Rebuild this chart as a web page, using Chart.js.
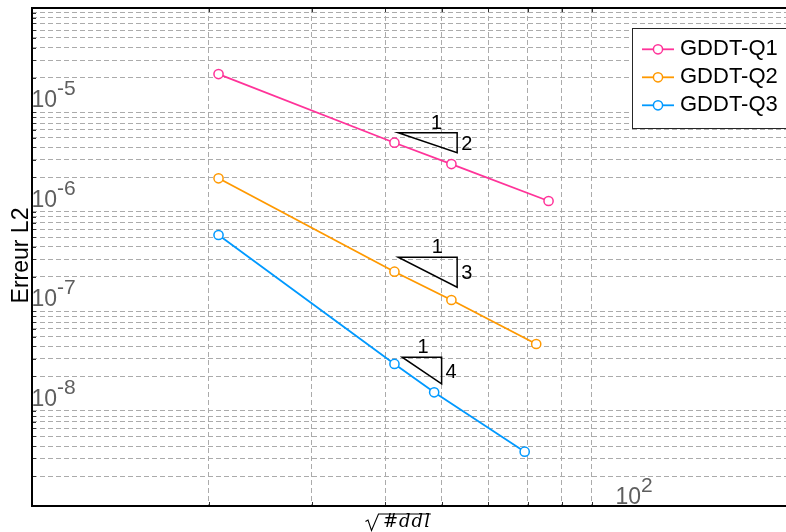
<!DOCTYPE html>
<html><head><meta charset="utf-8">
<script src="https://cdn.jsdelivr.net/npm/chart.js@4/dist/chart.umd.min.js"></script>
<style>
html,body{margin:0;padding:0;overflow:hidden;background:#fff;width:786px;height:532px}
#wrap{position:absolute;left:0;top:0;width:840px;height:532px}
</style>
</head><body><div id="wrap"><canvas id="c" width="840" height="532"></canvas></div>
<script>
// ---- data ----
const seriesNames = ['GDDT-Q1', 'GDDT-Q2', 'GDDT-Q3'];
const seriesColors = ['rgb(255,51,153)', 'rgb(255,153,0)', 'rgb(0,153,255)'];
const q1X = [20.8, 41.5, 51.9, 76.0];
const q1Y = [2.17e-5, 4.44e-6, 2.71e-6, 1.154e-6];
const q2X = [20.8, 41.5, 51.9, 72.4];
const q2Y = [1.95e-6, 2.25e-7, 1.17e-7, 4.23e-8];
const q3X = [20.8, 41.5, 48.5, 69.2];
const q3Y = [5.26e-7, 2.67e-8, 1.385e-8, 3.51e-9];
const xLimits = [10, 200];
const yLimits = [1e-9, 1e-4];
const xGridTicks = [20, 30, 40, 50, 60, 70, 80, 90];
const gridMantissas = [2, 3, 4, 5, 6, 7, 8, 9];
const yGridExponents = [-9, -8, -7, -6, -5];
const yLabelExponents = [-5, -6, -7, -8];
const xLabelExponents = [2];
const yTitle = 'Erreur L2';
const xTitle = '#ddl';
// slope triangles (annotation)
const triX0 = [42.11, 42.11, 42.77];
const triX1 = [53.08, 53.08, 49.94];
const triY0 = [5.607e-6, 3.15e-7, 3.124e-8];
const triOrder = [2, 3, 4];
const triOneX = [48.96, 49.08, 46.45];

const yGridTicks = [];
yGridExponents.forEach(e => gridMantissas.forEach(m => yGridTicks.push(m * Math.pow(10, e))));

const xs = [q1X, q2X, q3X], ys = [q1Y, q2Y, q3Y];
const datasets = seriesNames.map((n, i) => ({
  label: n,
  data: xs[i].map((v, k) => ({x: v, y: ys[i][k]})),
  borderColor: seriesColors[i],
  backgroundColor: '#ffffff',
  pointBackgroundColor: '#ffffff',
  pointBorderColor: seriesColors[i],
  pointRadius: 4.6,
  pointBorderWidth: 1.5,
  borderWidth: 1.8,
  tension: 0,
  fill: false
}));

const SANS = '"Liberation Sans", Arial, Helvetica, sans-serif';

function drawPow(ctx, x0, base, exp) {
  ctx.font = '23px ' + SANS;
  ctx.textAlign = 'left';
  ctx.textBaseline = 'alphabetic';
  ctx.fillText('10', x0, base);
  const w = ctx.measureText('10').width;
  ctx.font = '21px ' + SANS;
  ctx.fillText(String(exp), x0 + w, base - 12);
}

const deco = {
  id: 'deco',
  afterDatasetsDraw(chart) {
    const {ctx, scales: {x, y}} = chart;
    ctx.save();
    ctx.strokeStyle = '#000';
    ctx.lineWidth = 1.5;
    ctx.lineJoin = 'miter';
    ctx.fillStyle = '#000';
    for (let i = 0; i < triX0.length; i++) {
      const px0 = x.getPixelForValue(triX0[i]);
      const px1 = x.getPixelForValue(triX1[i]);
      const py0 = y.getPixelForValue(triY0[i]);
      const py1 = y.getPixelForValue(triY0[i] * Math.pow(triX0[i] / triX1[i], triOrder[i]));
      ctx.beginPath();
      ctx.moveTo(px0, py0); ctx.lineTo(px1, py0); ctx.lineTo(px1, py1); ctx.closePath();
      ctx.stroke();
      ctx.font = '20px ' + SANS;
      ctx.textBaseline = 'alphabetic';
      ctx.textAlign = 'center';
      ctx.fillText('1', x.getPixelForValue(triOneX[i]), py0 - 4);
      ctx.textAlign = 'left';
      ctx.fillText(String(triOrder[i]), px1 + 4, (py0 + py1) / 2 + 7);
    }
    ctx.restore();
  },
  afterDraw(chart) {
    const {ctx, chartArea: a, scales: {x, y}} = chart;
    ctx.save();
    // inner tick marks
    ctx.strokeStyle = '#333';
    ctx.lineWidth = 1;
    ctx.beginPath();
    yGridTicks.forEach(v => {
      const p = Math.round(y.getPixelForValue(v)) + 0.5;
      ctx.moveTo(a.left, p); ctx.lineTo(a.left + 4, p);
    });
    xGridTicks.forEach(v => {
      const p = Math.round(x.getPixelForValue(v)) + 0.5;
      ctx.moveTo(p, a.bottom); ctx.lineTo(p, a.bottom - 4);
      ctx.moveTo(p, a.top); ctx.lineTo(p, a.top + 4);
    });
    ctx.stroke();
    // legend
    const lx = 632, ly = 28, lw = 190, lh = 100;
    ctx.fillStyle = '#fff';
    ctx.fillRect(lx, ly, lw, lh);
    ctx.strokeStyle = '#262626';
    ctx.lineWidth = 1;
    ctx.strokeRect(lx + 0.5, ly + 0.5, lw, lh);
    seriesNames.forEach((n, i) => {
      const ry = 49.3 + 28 * i;
      ctx.strokeStyle = seriesColors[i];
      ctx.lineWidth = 1.8;
      ctx.beginPath(); ctx.moveTo(642, ry); ctx.lineTo(674, ry); ctx.stroke();
      ctx.beginPath(); ctx.arc(658, ry, 4.6, 0, Math.PI * 2);
      ctx.fillStyle = '#fff'; ctx.fill();
      ctx.lineWidth = 1.5; ctx.stroke();
      ctx.fillStyle = '#000';
      ctx.font = '22px ' + SANS;
      ctx.textAlign = 'left'; ctx.textBaseline = 'alphabetic';
      ctx.fillText(n, 680, ry + 6);
    });
    // frame
    ctx.strokeStyle = '#000';
    ctx.lineWidth = 2;
    ctx.beginPath();
    ctx.moveTo(a.left, a.top); ctx.lineTo(a.right, a.top); ctx.lineTo(a.right, a.bottom);
    ctx.lineTo(a.left, a.bottom); ctx.closePath();
    ctx.stroke();
    // tick labels
    ctx.fillStyle = '#5e5e5e';
    yLabelExponents.forEach(e => drawPow(ctx, a.left - 0.5, y.getPixelForValue(Math.pow(10, e)) - 0.5, e));
    xLabelExponents.forEach(e => drawPow(ctx, x.getPixelForValue(Math.pow(10, e)) - 3, a.bottom - 2, e));
    // y title
    ctx.fillStyle = '#000';
    ctx.save();
    ctx.translate(27.5, 255.5);
    ctx.rotate(-Math.PI / 2);
    ctx.font = '23px ' + SANS;
    ctx.textAlign = 'center'; ctx.textBaseline = 'alphabetic';
    ctx.fillText(yTitle, 0, 0);
    ctx.restore();
    // x title: sqrt(#ddl)
    ctx.font = 'italic 18px "DejaVu Serif", serif';
    try { ctx.letterSpacing = '1px'; } catch (err) {}
    ctx.textAlign = 'left'; ctx.textBaseline = 'alphabetic';
    const tx = 383;
    ctx.fillText(xTitle, tx, 527);
    const tw = ctx.measureText(xTitle).width;
    try { ctx.letterSpacing = '0px'; } catch (err) {}
    ctx.strokeStyle = '#000';
    ctx.lineWidth = 1.1;
    ctx.beginPath();
    ctx.moveTo(365.5, 521.5); ctx.lineTo(368, 520);
    ctx.lineTo(371.5, 530.5); ctx.lineTo(378.5, 514); ctx.lineTo(tx + tw, 514);
    ctx.stroke();
    ctx.restore();
  }
};

new Chart(document.getElementById('c'), {
  type: 'line',
  data: {datasets},
  options: {
    responsive: false,
    animation: false,
    devicePixelRatio: 1,
    layout: {padding: {left: 32, top: 8, right: 45, bottom: 26}},
    plugins: {legend: {display: false}, tooltip: {enabled: false}},
    scales: {
      x: {
        type: 'logarithmic', min: xLimits[0], max: xLimits[1],
        afterBuildTicks: s => { s.ticks = xGridTicks.map(v => ({value: v})); },
        ticks: {display: false},
        grid: {color: '#ababab', lineWidth: 1, drawTicks: false},
        border: {display: false, dash: [5, 3]}
      },
      y: {
        type: 'logarithmic', min: yLimits[0], max: yLimits[1],
        afterBuildTicks: s => { s.ticks = yGridTicks.map(v => ({value: v})); },
        ticks: {display: false},
        grid: {color: '#ababab', lineWidth: 1, drawTicks: false},
        border: {display: false, dash: [5, 3]}
      }
    }
  },
  plugins: [deco]
});
</script>
</body></html>
